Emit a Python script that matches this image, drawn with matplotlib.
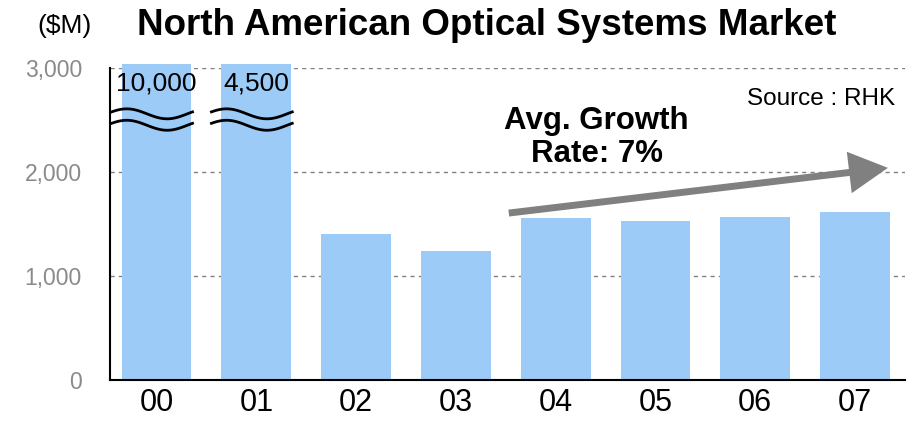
import numpy as np
import matplotlib
matplotlib.use("Agg")
import matplotlib.pyplot as plt

plt.rcParams["font.family"] = ["Liberation Sans", "DejaVu Sans"]

# data
years = ["00", "01", "02", "03", "04", "05", "06", "07"]
market = [10000, 4500, 1400, 1240, 1560, 1530, 1570, 1615]
break_labels = ["10,000", "4,500"]
y_ticks = [0, 1000, 2000, 3000]
y_tick_labels = ["0", "1,000", "2,000", "3,000"]

BAR_COLOR = "#9ccbf8"
Y_MAX = 3000

fig = plt.figure(figsize=(9.14, 4.23), dpi=100)
ax = fig.add_axes([0.120, 0.102, 0.870, 0.737])

x = np.arange(len(years))
shown = [min(v, Y_MAX + 40) for v in market]
ax.bar(x, shown, width=0.7, color=BAR_COLOR, zorder=2, clip_on=False)

ax.set_xlim(-0.47, 7.5)
ax.set_ylim(0, Y_MAX)
ax.set_yticks(y_ticks)
ax.set_yticklabels(y_tick_labels, color="#8a8a8a", fontsize=16.5)
ax.set_xticks(x)
ax.set_xticklabels(years, fontsize=22)
ax.tick_params(axis="both", length=0)
ax.tick_params(axis="y", pad=20)
ax.tick_params(axis="x", pad=6)

for yv in y_ticks[1:]:
    ax.axhline(yv, color="#808080", linestyle=(0, (3, 3)), linewidth=1, zorder=1)

ax.spines[["top", "right"]].set_visible(False)
ax.spines["left"].set_linewidth(1.5)
ax.spines["bottom"].set_linewidth(1.5)

# axis break marks on the clipped bars
for i, lbl in enumerate(break_labels):
    ax.text(x[i], 2856, lbl, ha="center", va="center", fontsize=19, zorder=4)
    wx = np.linspace(x[i] - 0.45, x[i] + 0.36, 60)
    wave = 48 * np.sin((wx - (x[i] - 0.45)) / 0.81 * 2 * np.pi + 0.4)
    for off in (2560, 2450):
        ax.plot(wx, off + wave, color="black", linewidth=2, zorder=4,
                clip_on=False)

# growth arrow
ax.annotate("", xy=(7.33, 2040), xytext=(3.53, 1605),
            arrowprops=dict(arrowstyle="simple,head_length=1.4,head_width=1.5,tail_width=0.25",
                            mutation_scale=20, fc="#808080", ec="none",
                            shrinkA=0, shrinkB=0),
            zorder=5)
ax.text(4.41, 2330, "Avg. Growth\nRate: 7%", ha="center", va="center",
        fontsize=22.5, fontweight="bold", linespacing=1.15, zorder=6)
ax.text(7.4, 2700, "Source : RHK", ha="right", va="center", fontsize=17.5)

fig.text(0.532, 0.939, "North American Optical Systems Market", ha="center",
         va="center", fontsize=26.5, fontweight="bold")
fig.text(0.071, 0.939, "($M)", ha="center", va="center", fontsize=19)

fig.savefig("out.png", dpi=100)
